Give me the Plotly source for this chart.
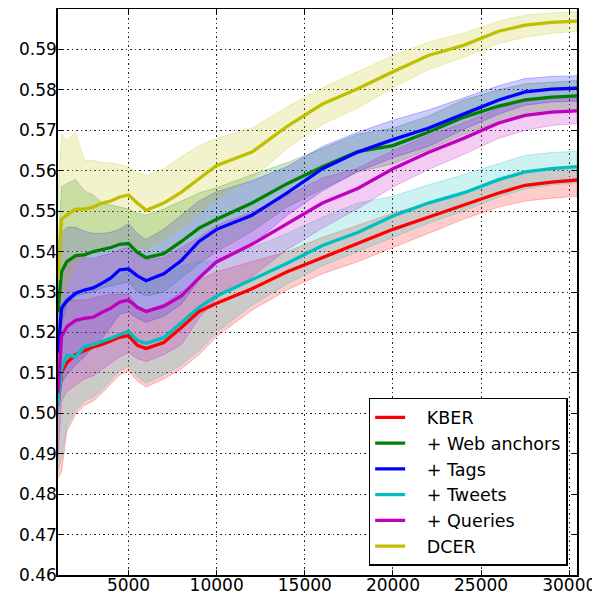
import plotly.graph_objects as go

X = [1000, 1200, 1500, 2000, 2500, 3000, 3500, 4000, 4500, 5000, 5500, 6000, 7000, 8000,
     9000, 10000, 12000, 14000, 16000, 18000, 20000, 22000, 24000, 26000, 27500, 29000, 30440]

KBER_MEAN = [0.502, 0.510, 0.5125, 0.5145, 0.5155, 0.5164, 0.517, 0.5178, 0.5188, 0.5192, 0.5168, 0.516, 0.5175, 0.5212,
             0.5252, 0.5272, 0.5308, 0.535, 0.5385, 0.5418, 0.5455, 0.5485, 0.5515, 0.5545, 0.5564, 0.5572, 0.5577]
KBER_LOW = [0.484, 0.4855, 0.4955, 0.4998, 0.502, 0.503, 0.505, 0.5072, 0.5095, 0.5105, 0.508, 0.5065, 0.5085, 0.511,
            0.5145, 0.519, 0.5255, 0.5305, 0.5345, 0.5375, 0.541, 0.5445, 0.548, 0.551, 0.5525, 0.5532, 0.5537]
KBER_HIGH = [0.518, 0.526, 0.528, 0.528, 0.528, 0.5285, 0.529, 0.5295, 0.5295, 0.5295, 0.5265, 0.5255, 0.527, 0.530,
             0.533, 0.535, 0.5375, 0.540, 0.5435, 0.5465, 0.5495, 0.552, 0.5548, 0.5575, 0.5595, 0.5605, 0.561]

WEB_MEAN = [0.525, 0.535, 0.5375, 0.539, 0.5392, 0.540, 0.5405, 0.541, 0.5418, 0.542, 0.5398, 0.5385, 0.5395, 0.5425,
            0.5458, 0.548, 0.552, 0.5568, 0.561, 0.5647, 0.5662, 0.5695, 0.5732, 0.576, 0.5775, 0.5782, 0.5785]
WEB_LOW = [0.510, 0.522, 0.527, 0.529, 0.5295, 0.530, 0.531, 0.5315, 0.532, 0.5325, 0.530, 0.529, 0.530, 0.5335,
           0.537, 0.540, 0.545, 0.551, 0.5555, 0.5597, 0.5617, 0.5652, 0.569, 0.572, 0.5737, 0.5745, 0.5748]
WEB_HIGH = [0.540, 0.556, 0.5568, 0.5578, 0.555, 0.554, 0.552, 0.5515, 0.551, 0.5505, 0.5495, 0.549, 0.5505, 0.5525,
            0.5545, 0.5558, 0.559, 0.562, 0.5655, 0.569, 0.5705, 0.5735, 0.5775, 0.580, 0.5815, 0.582, 0.5823]

TAGS_MEAN = [0.515, 0.526, 0.5278, 0.5297, 0.5305, 0.531, 0.5322, 0.5335, 0.5355, 0.5357, 0.534, 0.5328, 0.5345, 0.5378,
             0.5425, 0.5455, 0.549, 0.5545, 0.5605, 0.5646, 0.5677, 0.5705, 0.574, 0.5775, 0.5795, 0.5802, 0.5804]
TAGS_LOW = [0.500, 0.5075, 0.5095, 0.512, 0.514, 0.5165, 0.5185, 0.5215, 0.5245, 0.525, 0.5235, 0.5225, 0.524, 0.527,
            0.533, 0.537, 0.5415, 0.549, 0.555, 0.5598, 0.5632, 0.566, 0.5702, 0.574, 0.5762, 0.577, 0.5772]
TAGS_HIGH = [0.530, 0.5445, 0.546, 0.546, 0.545, 0.5445, 0.5445, 0.5448, 0.5455, 0.547, 0.5445, 0.543, 0.5455, 0.549,
             0.5525, 0.5548, 0.5575, 0.561, 0.566, 0.5695, 0.5725, 0.575, 0.578, 0.581, 0.5828, 0.5833, 0.5835]

TWEETS_MEAN = [0.502, 0.511, 0.5143, 0.514, 0.5165, 0.517, 0.5178, 0.5185, 0.5195, 0.5203, 0.518, 0.5173, 0.5187, 0.5225,
               0.5262, 0.529, 0.533, 0.5371, 0.5415, 0.5447, 0.5488, 0.552, 0.5545, 0.5578, 0.5597, 0.5605, 0.561]
TWEETS_LOW = [0.486, 0.489, 0.4967, 0.5008, 0.503, 0.504, 0.5058, 0.5082, 0.5105, 0.5115, 0.509, 0.5075, 0.5095, 0.512,
              0.5155, 0.520, 0.5268, 0.532, 0.5365, 0.540, 0.5435, 0.547, 0.550, 0.5535, 0.5555, 0.5565, 0.557]
TWEETS_HIGH = [0.518, 0.527, 0.529, 0.529, 0.5305, 0.531, 0.532, 0.533, 0.534, 0.535, 0.533, 0.532, 0.5335, 0.5365,
               0.5375, 0.5375, 0.541, 0.5445, 0.5485, 0.552, 0.5537, 0.5565, 0.559, 0.5618, 0.5638, 0.5645, 0.5648]

QUERIES_MEAN = [0.505, 0.519, 0.5214, 0.523, 0.5235, 0.5238, 0.525, 0.526, 0.5275, 0.528, 0.5262, 0.5252, 0.5265, 0.529,
                0.5335, 0.5375, 0.5418, 0.547, 0.552, 0.5556, 0.5605, 0.5645, 0.568, 0.5718, 0.5737, 0.5745, 0.5748]
QUERIES_LOW = [0.489, 0.503, 0.5054, 0.507, 0.5085, 0.5093, 0.511, 0.5125, 0.514, 0.515, 0.5135, 0.5128, 0.5145, 0.517,
               0.5235, 0.5285, 0.5338, 0.5405, 0.5458, 0.5506, 0.556, 0.5603, 0.564, 0.568, 0.570, 0.5712, 0.5716]
QUERIES_HIGH = [0.521, 0.535, 0.5374, 0.539, 0.5385, 0.5383, 0.539, 0.5395, 0.5405, 0.541, 0.539, 0.538, 0.5385, 0.541,
                0.5435, 0.5465, 0.5498, 0.5538, 0.5582, 0.5606, 0.565, 0.5687, 0.5718, 0.5755, 0.5772, 0.578, 0.578]

DCER_MEAN = [0.533, 0.548, 0.549, 0.5505, 0.5505, 0.551, 0.552, 0.5525, 0.5535, 0.554, 0.552, 0.5502, 0.552, 0.5547,
             0.558, 0.5613, 0.5646, 0.571, 0.5765, 0.5803, 0.5845, 0.5885, 0.591, 0.5945, 0.596, 0.5967, 0.597]
DCER_LOW = [0.513, 0.528, 0.532, 0.537, 0.539, 0.540, 0.541, 0.542, 0.5425, 0.543, 0.541, 0.5405, 0.543, 0.546,
            0.5495, 0.553, 0.558, 0.5655, 0.5715, 0.5755, 0.5805, 0.585, 0.588, 0.5915, 0.593, 0.594, 0.5945]
DCER_HIGH = [0.553, 0.569, 0.5675, 0.5695, 0.5625, 0.5625, 0.562, 0.562, 0.5615, 0.561, 0.5595, 0.5588, 0.5605, 0.5635,
             0.5662, 0.568, 0.5705, 0.5758, 0.5805, 0.5845, 0.5885, 0.5918, 0.594, 0.597, 0.5985, 0.599, 0.5993]

NAMES = ["KBER", "+ Web anchors", "+ Tags", "+ Tweets", "+ Queries", "DCER"]
X_TICKS = [5000, 10000, 15000, 20000, 25000, 30000]
Y_TICKS = [0.46, 0.47, 0.48, 0.49, 0.50, 0.51, 0.52, 0.53, 0.54, 0.55, 0.56, 0.57, 0.58, 0.59]

COLORS = [(255, 0, 0), (0, 128, 0), (0, 0, 255), (0, 191, 191), (191, 0, 191), (191, 191, 0)]
SERIES = [
    (KBER_MEAN, KBER_LOW, KBER_HIGH),
    (WEB_MEAN, WEB_LOW, WEB_HIGH),
    (TAGS_MEAN, TAGS_LOW, TAGS_HIGH),
    (TWEETS_MEAN, TWEETS_LOW, TWEETS_HIGH),
    (QUERIES_MEAN, QUERIES_LOW, QUERIES_HIGH),
    (DCER_MEAN, DCER_LOW, DCER_HIGH),
]

fig = go.Figure()

for (mean, low, high), (r, g, b) in zip(SERIES, COLORS):
    fig.add_trace(go.Scatter(
        x=X + X[::-1], y=high + low[::-1],
        fill="toself", fillcolor=f"rgba({r},{g},{b},0.2)",
        line=dict(color=f"rgba({r},{g},{b},0.25)", width=1),
        mode="lines", showlegend=False, hoverinfo="skip",
    ))

PAD = "\u00a0\u00a0\u00a0"
for name, (mean, low, high), (r, g, b) in zip(NAMES, SERIES, COLORS):
    fig.add_trace(go.Scatter(
        x=X, y=mean, mode="lines", name=PAD + name,
        line=dict(color=f"rgb({r},{g},{b})", width=3.3),
    ))

axis_common = dict(
    showline=True, linecolor="black", linewidth=1.5, mirror="allticks",
    ticks="inside", ticklen=5, tickwidth=1, tickcolor="black",
    showgrid=True, gridcolor="rgba(0,0,0,0.85)", gridwidth=1, griddash="1.5px,3px",
    zeroline=False, automargin=False,
    tickfont=dict(family="DejaVu Sans", size=17, color="black"),
)

fig.update_xaxes(range=[1000, 30440], tickmode="array",
                 tickvals=X_TICKS, ticktext=[str(v) for v in X_TICKS],
                 ticklabelstandoff=-6, **axis_common)
fig.update_yaxes(range=[0.46, 0.60], tickmode="array",
                 tickvals=Y_TICKS, ticktext=[f"{v:.2f}" for v in Y_TICKS],
                 ticklabelstandoff=-4, **axis_common)

fig.update_layout(
    width=592, height=588,
    margin=dict(l=50, r=23, t=1, b=21),
    paper_bgcolor="white", plot_bgcolor="white",
    font=dict(family="DejaVu Sans", size=17, color="black"),
    showlegend=True,
    legend=dict(
        x=0.982, y=0.016, xanchor="right", yanchor="bottom",
        bgcolor="white", bordercolor="black", borderwidth=1.5,
        font=dict(family="DejaVu Sans", size=17.5, color="black"),
        traceorder="normal",
    ),
)

fig.write_html("out.html")
